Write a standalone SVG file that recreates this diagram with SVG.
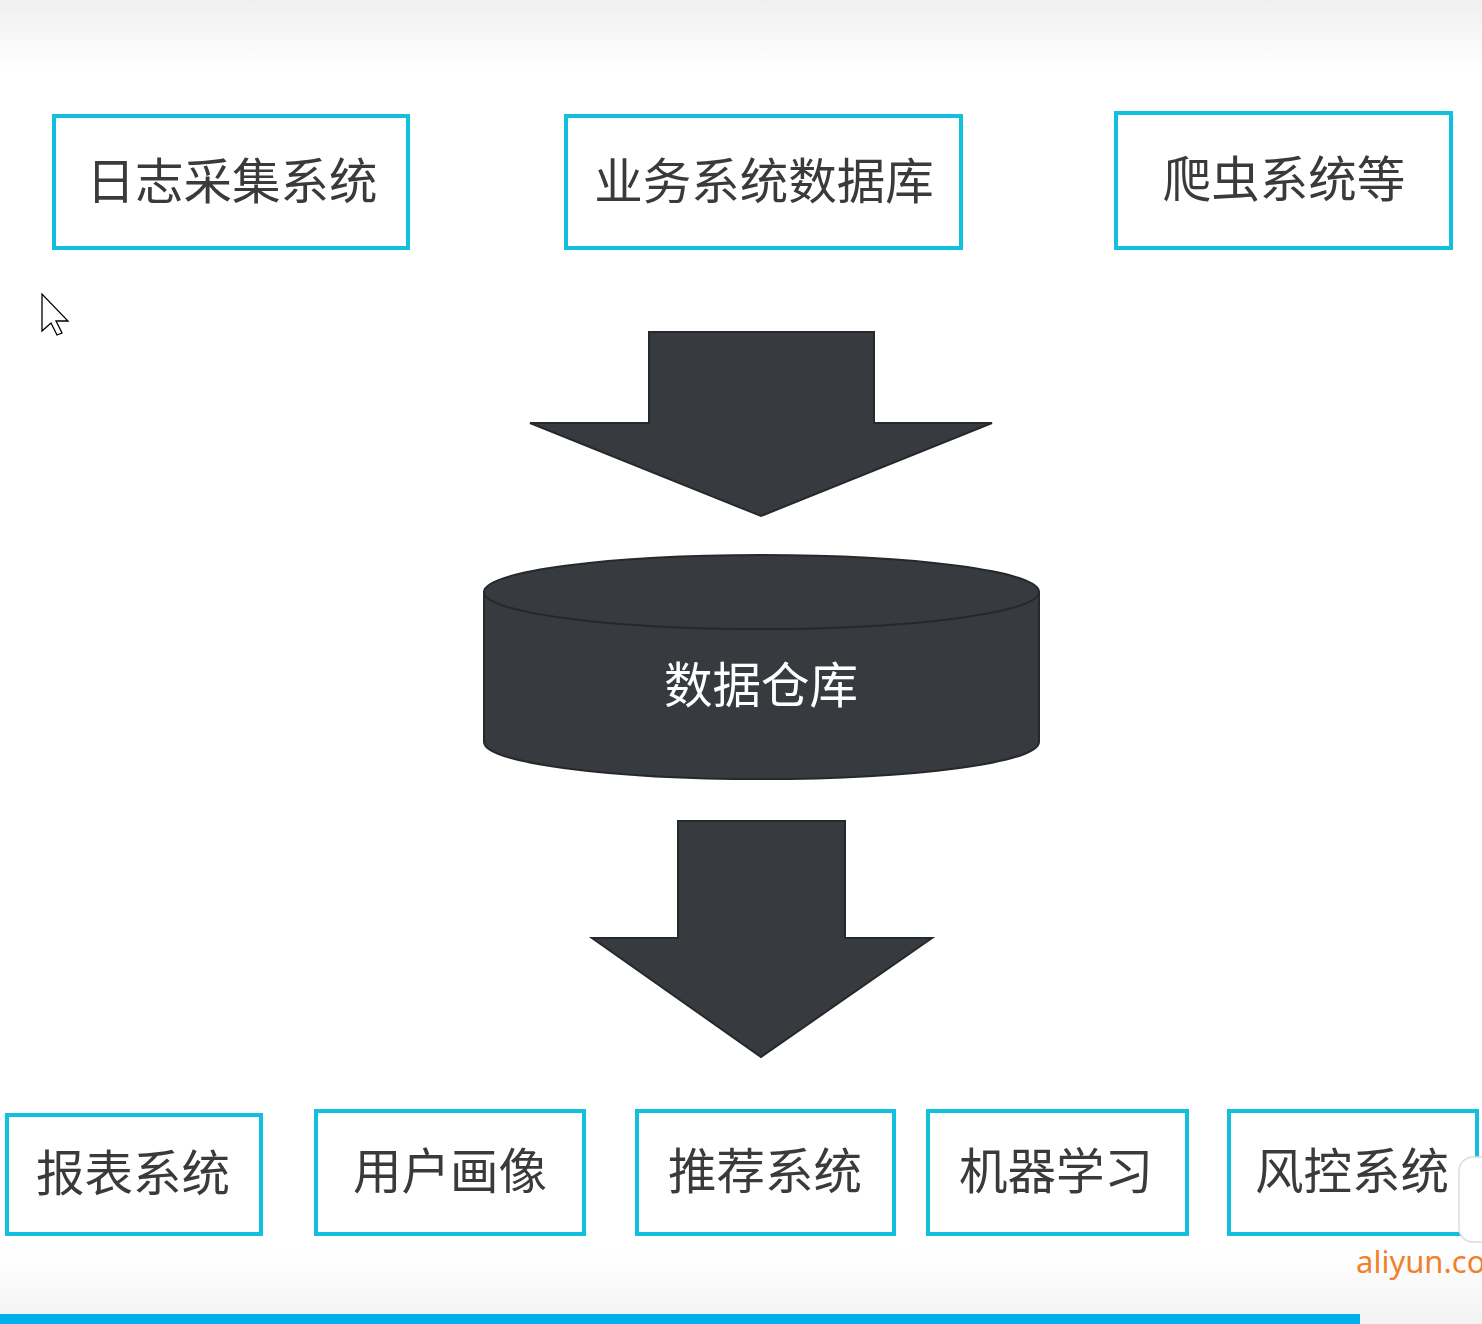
<svg xmlns="http://www.w3.org/2000/svg" width="1482" height="1324" viewBox="0 0 1482 1324">
<defs>
<linearGradient id="topg" x1="0" y1="0" x2="0" y2="1">
<stop offset="0" stop-color="#efefef"/>
<stop offset="1" stop-color="#ffffff"/>
</linearGradient>
<linearGradient id="botg" x1="0" y1="0" x2="0" y2="1">
<stop offset="0" stop-color="#ffffff"/>
<stop offset="1" stop-color="#f3f3f3"/>
</linearGradient>
<style>
.box{fill:#ffffff;stroke:#12c0de;stroke-width:4}
.lbl{font-family:"Noto Sans CJK SC","Noto Sans",sans-serif;font-size:48.5px;fill:#3a3a3a;text-anchor:middle;dominant-baseline:central}
.dark{fill:#373b3f;stroke:#26292c;stroke-width:2}
</style>
</defs>
<rect width="1482" height="1324" fill="#ffffff"/>
<rect width="1482" height="70" fill="url(#topg)"/>
<rect y="1250" width="1482" height="74" fill="url(#botg)"/>

<g id="n-log"><rect class="box" x="54" y="116" width="354" height="132"/><text class="lbl" x="232" y="178">日志采集系统</text></g>
<g id="n-bizdb"><rect class="box" x="566" y="116" width="395" height="132"/><text class="lbl" x="764" y="178">业务系统数据库</text></g>
<g id="n-crawler"><rect class="box" x="1116" y="113" width="335" height="135"/><text class="lbl" x="1284" y="176">爬虫系统等</text></g>

<g id="connectors">
<polygon class="dark" points="649,332 874,332 874,423 992,423 761,516 530,423 649,423"/>
<polygon class="dark" points="678,821 845,821 845,938 932,938 761,1057 592,938 678,938"/>
</g>

<g id="n-dw">
<path class="dark" d="M484,592 L484,742 A277.5,37 0 0 0 1039,742 L1039,592 Z"/>
<ellipse class="dark" cx="761.5" cy="592" rx="277.5" ry="37"/>
<text class="lbl" x="761" y="682" style="fill:#ffffff">数据仓库</text>
</g>

<g id="n-report"><rect class="box" x="7" y="1115" width="254" height="119"/><text class="lbl" x="133" y="1170">报表系统</text></g>
<g id="n-profile"><rect class="box" x="316" y="1111" width="268" height="123"/><text class="lbl" x="450" y="1168">用户画像</text></g>
<g id="n-recommend"><rect class="box" x="637" y="1111" width="257" height="123"/><text class="lbl" x="765" y="1168">推荐系统</text></g>
<g id="n-ml"><rect class="box" x="928" y="1111" width="259" height="123"/><text class="lbl" x="1056" y="1168">机器学习</text></g>
<g id="n-risk"><rect class="box" x="1229" y="1111" width="248" height="123"/><text class="lbl" x="1352" y="1168">风控系统</text></g>

<rect x="1459" y="1157" width="40" height="85" rx="14" fill="#ffffff" stroke="#dddddd" stroke-width="1.5"/>
<text x="1356" y="1273" font-family="'Noto Sans','Open Sans',sans-serif" font-size="31" fill="#f0812c">aliyun.co</text>
<rect x="0" y="1314" width="1360" height="10" fill="#00b0ea"/>

<path d="M42,294 L42,331 L51,323 L57,335 L62,333 L56,321 L68,321 Z" fill="#ffffff" stroke="#000000" stroke-width="1.3"/>
</svg>
